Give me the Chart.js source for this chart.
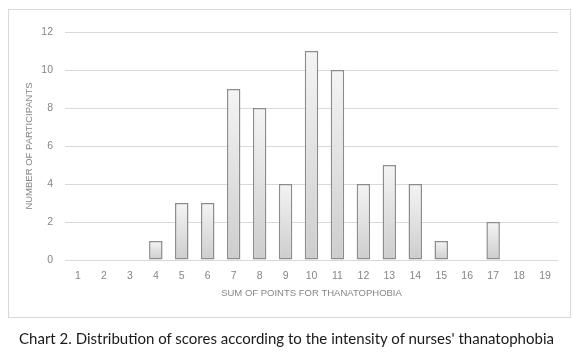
<!DOCTYPE html>
<html>
<head>
<meta charset="utf-8">
<script src="https://cdn.jsdelivr.net/npm/chart.js@4/dist/chart.umd.min.js"></script>
<style>
  html, body { margin: 0; padding: 0; background: #ffffff; }
  #wrap { position: relative; width: 573px; height: 357px; overflow: hidden; }
  #frame { position: absolute; left: 8px; top: 9px; width: 561px; height: 307px; border: 1px solid #d9d9d9; box-sizing: content-box; }
  #c { position: absolute; left: 0; top: 0; }
  #caption { position: absolute; left: 0; width: 573px; top: 329px; text-align: center; font-family: Lato, "Noto Sans", sans-serif; font-size: 15px; color: #1a1a1a; }
</style>
</head>
<body>
<div id="wrap">
  <div id="frame"></div>
  <canvas id="c" width="573" height="357"></canvas>
  <div id="caption">Chart 2. Distribution of scores according to the intensity of nurses' thanatophobia</div>
</div>
<script>
const categories = ["1","2","3","4","5","6","7","8","9","10","11","12","13","14","15","16","17","18","19"];
const participants = [0,0,0,1,3,3,9,8,4,11,10,4,5,4,1,0,2,0,0];
const xTitle = "SUM OF POINTS FOR THANATOPHOBIA";
const yTitle = "NUMBER OF PARTICIPANTS";

const FONT = "'Liberation Sans', Arial, sans-serif";

function barFill(context) {
  const chart = context.chart;
  const ys = chart.scales && chart.scales.y;
  if (!ys || context.parsed == null) return '#e0e0e0';
  const top = ys.getPixelForValue(context.parsed.y);
  const base = ys.getPixelForValue(0);
  if (!isFinite(top) || !isFinite(base) || top === base) return '#e0e0e0';
  const g = chart.ctx.createLinearGradient(0, top, 0, base);
  g.addColorStop(0, '#f4f4f4');
  g.addColorStop(1, '#cdcdcd');
  return g;
}

new Chart(document.getElementById('c'), {
  type: 'bar',
  data: {
    labels: categories,
    datasets: [{
      data: participants,
      backgroundColor: barFill,
      borderColor: '#8c8c8c',
      borderWidth: (ctx) => (ctx.raw ? 1.5 : 0),
      borderSkipped: false,
      barPercentage: 0.52,
      categoryPercentage: 1.0
    }]
  },
  options: {
    responsive: false,
    animation: false,
    devicePixelRatio: 1,
    layout: { padding: { left: 24, right: 15, top: 32, bottom: 57 } },
    plugins: { legend: { display: false }, tooltip: { enabled: false } },
    scales: {
      x: {
        grid: { display: false, drawTicks: false },
        border: { display: false },
        ticks: { color: '#868686', font: { family: FONT, size: 10.5 }, padding: 10, maxRotation: 0, autoSkip: false },
        title: { display: true, text: xTitle, color: '#868686', font: { family: FONT, size: 9.5 }, padding: { top: 0, bottom: 1 } },
        afterFit: (axis) => { axis.height = 40; }
      },
      y: {
        min: 0, max: 12,
        grid: { color: '#d9d9d9', lineWidth: 1, drawTicks: false },
        border: { display: false },
        ticks: { stepSize: 2, color: '#868686', font: { family: FONT, size: 10.5 }, padding: 12 },
        title: { display: true, text: yTitle, color: '#868686', font: { family: FONT, size: 9.5 }, padding: { top: 0, bottom: 0 } },
        afterFit: (axis) => { axis.width = 41; }
      }
    }
  }
});
</script>
</body>
</html>
